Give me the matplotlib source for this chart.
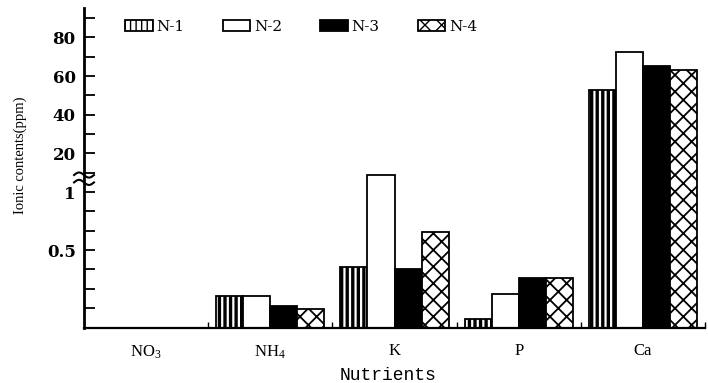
#!/usr/bin/env python3

import numpy as np
import matplotlib
matplotlib.use("Agg")
import matplotlib.pyplot as plt

# data ------------------------------------------------------------------------------------------------------
nutrients = ["NO$_3$", "NH$_4$", "K", "P", "Ca"]
series = ["N-1", "N-2", "N-3", "N-4"]
n1 = [0.0, 0.288, 0.406, 0.220, 52.9]
n2 = [0.0, 0.288, 9.05, 0.295, 72.2]
n3 = [0.0, 0.256, 0.397, 0.360, 65.4]
n4 = [0.0, 0.248, 0.622, 0.356, 62.9]
major_ticks = [0.5, 1, 20, 40, 60, 80]
major_labels = ["0.5", "1", "20", "40", "60", "80"]

plt.rcParams["mathtext.default"] = "regular"
plt.rcParams["font.family"] = "Liberation Serif"

# broken axis: log-like below 1, linear above
LO = 58.0
HI = 1.933


def fwd(v):
    v = np.asarray(v, dtype=float)
    lo = LO * np.log2(np.clip(v, 1e-6, None))
    return np.where(v <= 1, lo, HI * v)


def inv(t):
    t = np.asarray(t, dtype=float)
    return np.where(t <= 0, np.exp2(np.minimum(t, 0) / LO), np.maximum(t / HI, 1.0))


fig = plt.figure(figsize=(7.08, 3.83), dpi=100)
ax = fig.add_axes([84 / 708, 55 / 383, 621 / 708, 320 / 383])
ax.set_yscale("function", functions=(fwd, inv))

bar_w = 0.218
x = np.arange(len(nutrients))
styles = [
    dict(facecolor="white", hatch="|||", hlw=2.4),
    dict(facecolor="white", hatch="", hlw=1.0),
    dict(facecolor="black", hatch="", hlw=1.0),
    dict(facecolor="white", hatch="xx", hlw=1.3),
]
for i, (vals, lab, st) in enumerate(zip([n1, n2, n3, n4], series, styles)):
    bars = ax.bar(x + (i - 1.5) * bar_w, vals, bar_w, facecolor=st["facecolor"],
                  edgecolor="black", linewidth=1.3, hatch=st["hatch"], label=lab)
    for b in bars:
        b.set_hatch_linewidth(st["hlw"])

ax.set_xlim(-0.5, 4.5)
ax.set_ylim(0.197, 95.2)

ax.set_yticks(major_ticks)
ax.set_yticklabels(major_labels, fontsize=12, fontweight="bold", family="DejaVu Serif")
minor = [0.5 * 2 ** (k / 3) for k in [-3, -2, -1, 1, 2]] + [10, 30, 50, 70, 90]
ax.set_yticks(minor, minor=True)
ax.tick_params(axis="y", which="both", direction="in", length=8, width=1.3, pad=6)

ax.set_xticks(x)
ax.set_xticklabels(nutrients, fontsize=12)
ax.set_xticks(x[1:] - 0.5, minor=True)
ax.set_xticks(list(x + 0.5), minor=True)
ax.tick_params(axis="x", which="major", length=0, pad=11)
ax.tick_params(axis="x", which="minor", direction="in", length=4, width=1)

ax.spines["top"].set_visible(False)
ax.spines["right"].set_visible(False)
ax.spines["left"].set_linewidth(2)
ax.spines["bottom"].set_linewidth(1.6)

# break marks on the y axis
s = np.linspace(-1, 1, 40)
for yc in [0.478, 0.455]:
    ax.plot(-0.016 * s, yc + 0.008 * np.sin(np.pi * s), color="black", lw=1.5,
            transform=ax.transAxes, clip_on=False)

fig.text(388 / 708, 1 - 376 / 383, "Nutrients", ha="center", va="center",
         fontsize=13, family="Liberation Mono")
fig.text(20 / 708, 1 - 155 / 383, "Ionic contents(ppm)", ha="center", va="center",
         rotation=90, fontsize=10.5)

leg = ax.legend(ncol=4, loc="upper left", bbox_to_anchor=(125 / 708, 1 - 20 / 383),
                bbox_transform=fig.transFigure, frameon=False, borderpad=0, borderaxespad=0,
                handlelength=1.8, handleheight=0.75, handletextpad=0.25, columnspacing=2.5,
                prop={"family": "DejaVu Serif", "size": 11})

fig.savefig("out.png", dpi=100)
